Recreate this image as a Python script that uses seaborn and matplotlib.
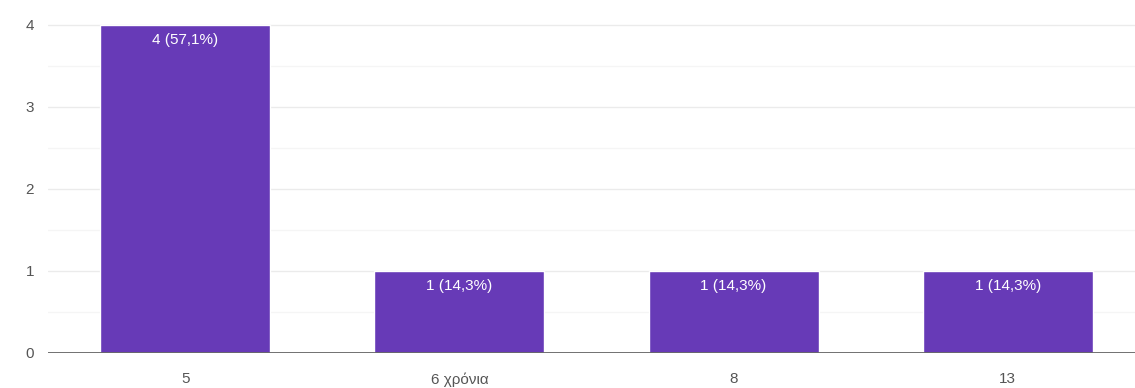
import matplotlib
matplotlib.use("Agg")
import matplotlib.pyplot as plt
import seaborn as sns
import pandas as pd
from matplotlib.ticker import MultipleLocator

categories = ["5", "6 χρόνια", "8", "13"]
counts = [4, 1, 1, 1]
percent_labels = ["57,1%", "14,3%", "14,3%", "14,3%"]

df = pd.DataFrame({"answer": categories, "count": counts})

sns.set_theme(style="white")
plt.rcParams["font.family"] = ["Liberation Sans", "DejaVu Sans"]

fig = plt.figure(figsize=(11.35, 3.88), dpi=100)
ax = fig.add_axes([48 / 1135, 35 / 388, 1097 / 1135, 353 / 388])

sns.barplot(data=df, x="answer", y="count", color="#673ab7", saturation=1,
            width=0.62, ax=ax, zorder=3)

ax.set_xlim(-0.5, 3.5)
ax.set_ylim(0, 4.3)
ax.yaxis.set_major_locator(MultipleLocator(1))
ax.yaxis.set_minor_locator(MultipleLocator(0.5))
ax.grid(which="major", axis="y", color="#ebebeb", linewidth=1, zorder=0)
ax.grid(which="minor", axis="y", color="#f5f5f5", linewidth=1, zorder=0)
ax.axhline(0, color="#666666", linewidth=1.3, zorder=4)

for s in ax.spines.values():
    s.set_visible(False)

ax.set_xlabel("")
ax.set_ylabel("")
ax.tick_params(axis="both", which="both", length=0, labelsize=11, colors="#555555")
ax.tick_params(axis="y", pad=10)
ax.tick_params(axis="x", pad=14)

for i, (c, p) in enumerate(zip(counts, percent_labels)):
    ax.text(i, c - 0.1, f"{c} ({p})", ha="center", va="top",
            color="white", fontsize=11, zorder=5)

fig.savefig("out.png", dpi=100)
